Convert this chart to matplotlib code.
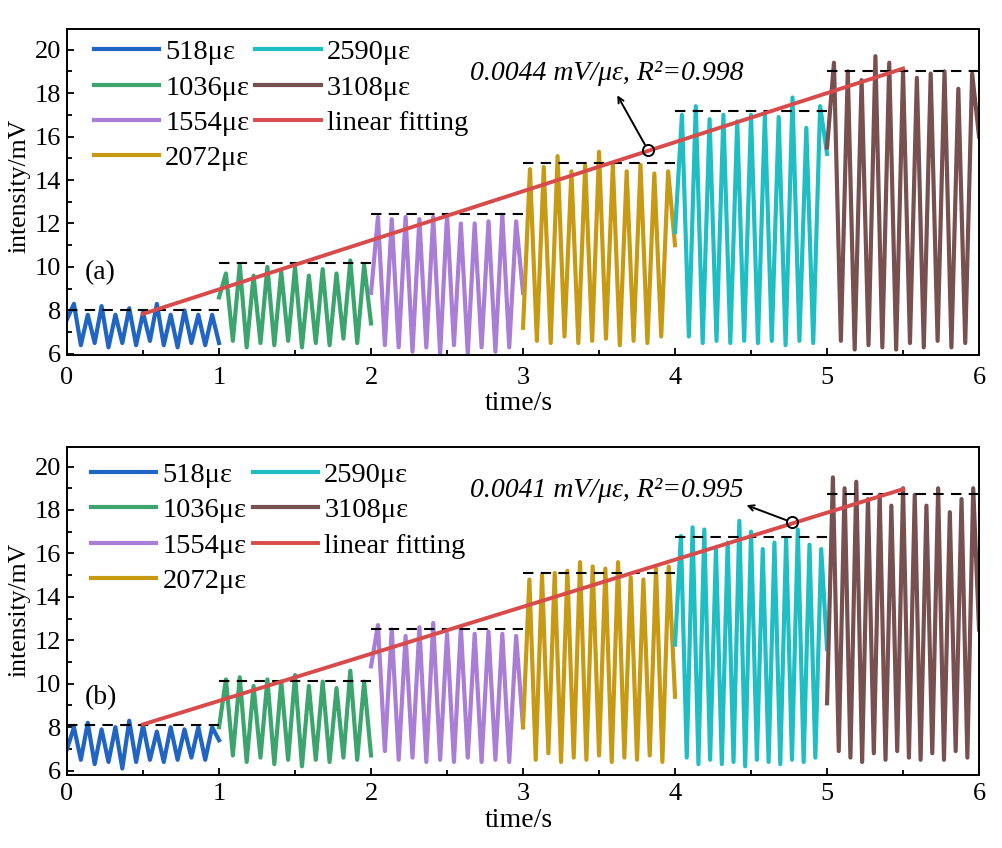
import numpy as np
import matplotlib
matplotlib.use('Agg')
import matplotlib.pyplot as plt
from matplotlib.ticker import MultipleLocator

plt.rcParams['font.family'] = ['Liberation Serif', 'DejaVu Serif']

labels = ['518με', '1036με', '1554με', '2072με', '2590με', '3108με']
colors = ['#2064c4', '#3ca56e', '#aa7dd6', '#c89a14', '#1fbec4', '#785050']
red = '#d94a4a'

# panel (a): alternating extremes of each 1 s record (mV)
a_518 = [7.6, 8.3, 6.4, 7.8, 6.5, 8.2, 6.3, 7.8, 6.5, 8.1, 6.4, 7.9, 6.6, 8.3,
         6.4, 7.8, 6.3, 8.0, 6.5, 7.8, 6.4, 7.8, 6.5]
a_1036 = [8.6, 9.7, 6.6, 10.1, 6.3, 9.6, 6.5, 10.0, 6.4, 9.8, 6.6, 10.0, 6.3,
          9.6, 6.5, 9.9, 6.4, 9.7, 6.7, 10.3, 6.5, 10.1, 7.4]
a_1554 = [8.8, 12.3, 6.4, 12.2, 6.3, 12.3, 6.1, 12.2, 6.3, 12.3, 6.0, 12.4, 6.4,
          12.0, 6.0, 12.0, 6.3, 12.1, 6.1, 12.4, 6.3, 12.1, 8.8]
a_2072 = [7.2, 14.5, 6.6, 14.6, 6.5, 15.1, 6.8, 14.4, 6.5, 14.7, 6.6, 15.3, 6.7,
          14.7, 6.4, 14.4, 6.6, 14.7, 6.5, 14.3, 6.8, 14.4, 11.0]
a_2590 = [11.6, 17.0, 6.8, 17.4, 6.5, 16.8, 6.6, 17.0, 6.5, 16.7, 6.6, 17.0, 6.5,
          17.0, 6.6, 16.9, 6.4, 17.8, 6.6, 16.4, 6.5, 17.4, 15.2]
a_3108 = [15.5, 19.4, 6.6, 19.0, 6.2, 18.6, 6.4, 19.7, 6.3, 19.4, 6.2, 19.0, 6.5,
          18.7, 6.3, 18.9, 6.6, 19.0, 6.3, 18.2, 6.5, 18.9, 16.0]
a_levels = [8.01, 10.16, 12.44, 14.79, 17.17, 19.04]
a_fit_t = [0.5, 5.5]
a_fit = [7.84, 19.13]
a_mark = (3.82, 15.4)
a_tip = (3.62, 17.9)

# panel (b)
b_518 = [7.0, 8.0, 6.5, 8.2, 6.3, 7.9, 6.4, 8.0, 6.1, 8.3, 6.4, 8.1, 6.5, 7.8,
         6.4, 8.0, 6.5, 7.9, 6.6, 8.0, 6.5, 8.0, 7.4]
b_1036 = [8.0, 10.2, 6.7, 10.3, 6.4, 9.9, 6.6, 10.2, 6.3, 10.1, 6.5, 10.4, 6.2,
          9.9, 6.5, 10.1, 6.4, 9.8, 6.6, 10.6, 6.5, 10.1, 6.7]
b_1554 = [10.8, 12.7, 6.9, 12.5, 6.5, 12.2, 6.6, 12.6, 6.4, 12.8, 6.5, 12.3, 6.4,
          12.6, 6.6, 12.3, 6.4, 12.4, 6.5, 12.3, 6.4, 12.2, 8.0]
b_2072 = [8.0, 14.8, 6.5, 15.0, 6.8, 15.1, 6.4, 15.2, 6.6, 15.6, 6.5, 15.4, 6.7,
          15.3, 6.4, 15.6, 6.6, 14.9, 6.5, 14.8, 6.7, 15.3, 6.4, 15.4, 9.4]
b_2590 = [11.8, 16.8, 6.6, 17.2, 6.3, 17.1, 6.5, 16.2, 6.3, 16.5, 6.4, 17.5, 6.2,
          17.0, 6.5, 16.2, 6.4, 16.5, 6.3, 16.7, 6.5, 17.1, 6.4, 16.4, 6.6, 16.2, 11.6]
b_3108 = [9.1, 19.5, 6.9, 19.0, 6.6, 19.3, 6.4, 18.5, 6.8, 18.7, 6.5, 18.2, 6.9,
          19.0, 6.6, 18.7, 6.5, 18.2, 6.8, 19.0, 6.5, 17.9, 6.9, 18.5, 6.6, 19.0, 12.5]
b_levels = [8.08, 10.14, 12.53, 15.12, 16.76, 18.73]
b_fit_t = [0.5, 5.5]
b_fit = [8.13, 18.96]
b_mark = (4.77, 17.43)
b_tip = (4.47, 18.22)

panels = [
    dict(segs=[a_518, a_1036, a_1554, a_2072, a_2590, a_3108], levels=a_levels,
         fit_t=a_fit_t, fit=a_fit, mark=a_mark, tip=a_tip, ylim=(5.95, 20.95),
         tag='(a)', tag_y=9.73, note='0.0044 mV/με, R²=0.998',
         rect=[0.0669, 0.5814, 0.9102, 0.3844], xpad=9,
         leg_anchor=(0.023, 0.986), xlab_y=-0.150, ylab_y=0.52),
    dict(segs=[b_518, b_1036, b_1554, b_2072, b_2590, b_3108], levels=b_levels,
         fit_t=b_fit_t, fit=b_fit, mark=b_mark, tip=b_tip, ylim=(5.8, 20.9),
         tag='(b)', tag_y=9.38, note='0.0041 mV/με, R²=0.995',
         rect=[0.0669, 0.0861, 0.9102, 0.3868], xpad=6,
         leg_anchor=(0.020, 0.971), xlab_y=-0.140, ylab_y=0.503),
]

fig = plt.figure(figsize=(10.02, 8.48), dpi=100)

for p in panels:
    ax = fig.add_axes(p['rect'])
    for i, vals in enumerate(p['segs']):
        t = np.linspace(i, i + 1, len(vals))
        ax.plot(t, vals, color=colors[i], lw=3.0, label=labels[i], zorder=2,
                solid_joinstyle='round')
    for i, lvl in enumerate(p['levels']):
        ax.plot([i, i + 1], [lvl, lvl], color='k', lw=1.5, ls=(0, (5, 3.5)), zorder=3)
    ax.plot(p['fit_t'], p['fit'], color=red, lw=2.8, label='linear fitting', zorder=4)
    ax.plot(*p['mark'], 'o', ms=8, mfc='none', mec='k', mew=1.4, zorder=5)
    ax.annotate('', xy=p['tip'], xytext=p['mark'],
                arrowprops=dict(arrowstyle='->', lw=1.4, color='k', shrinkA=4, shrinkB=0))
    ax.text(3.55, 18.9, p['note'], fontsize=20, style='italic', ha='center', va='center')
    ax.text(0.118, p['tag_y'], p['tag'], fontsize=20, ha='left', va='center')

    ax.set_xlim(0, 6)
    ax.set_ylim(*p['ylim'])
    ax.xaxis.set_major_locator(MultipleLocator(1))
    ax.xaxis.set_minor_locator(MultipleLocator(0.5))
    ax.yaxis.set_major_locator(MultipleLocator(2))
    ax.yaxis.set_minor_locator(MultipleLocator(1))
    ax.tick_params(which='both', direction='in', top=False, right=False, labelsize=19)
    ax.tick_params(axis='x', which='both', pad=p['xpad'])
    ax.tick_params(axis='y', which='both', pad=4)
    ax.tick_params(which='major', length=5, width=1.3)
    ax.tick_params(which='minor', length=3.5, width=1.3)
    for s in ax.spines.values():
        s.set_linewidth(1.4)
    ax.set_xlabel('time/s', fontsize=20)
    ax.xaxis.set_label_coords(0.495, p['xlab_y'])
    ax.xaxis.label.set_va('center')
    ax.set_ylabel('intensity/mV', fontsize=18.5)
    ax.yaxis.set_label_coords(-0.052, p['ylab_y'])
    ax.yaxis.label.set_va('center')
    ax.legend(loc='upper left', bbox_to_anchor=p['leg_anchor'], ncol=2, frameon=False,
              fontsize=20.5, handlelength=2.3, handletextpad=0.21, columnspacing=0.21,
              labelspacing=0.33, borderaxespad=0, borderpad=0.2)

fig.savefig('out.png', dpi=100)
